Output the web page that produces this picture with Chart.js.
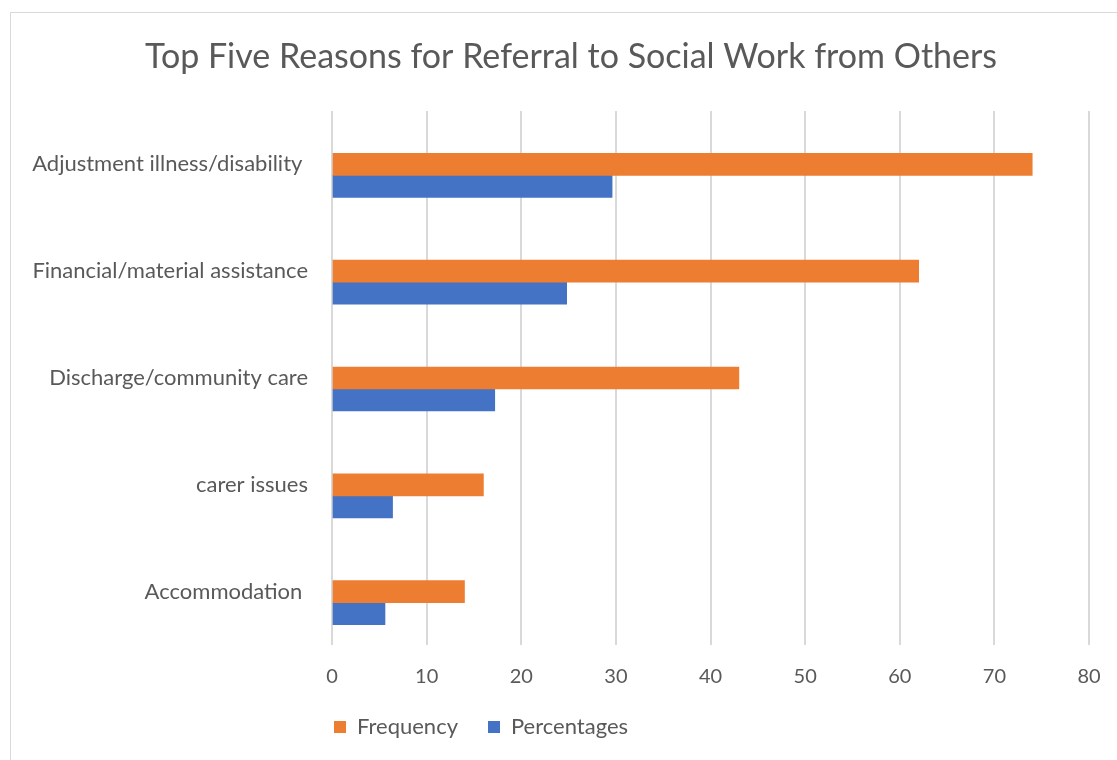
<!DOCTYPE html>
<html>
<head>
<meta charset="utf-8">
<title>Top Five Reasons for Referral to Social Work from Others</title>
<script src="https://cdn.jsdelivr.net/npm/chart.js@4.4.1/dist/chart.umd.min.js"></script>
<style>
  html, body { margin: 0; padding: 0; background: #ffffff; overflow: hidden; }
  .frame {
    position: absolute; left: 10px; top: 12px;
    width: 1140px; height: 780px;
    border: 1px solid #d9d9d9;
  }
  /* the chart object runs a little past the right edge of the window */
  .chart-wrap { position: absolute; left: 0; top: 0; width: 1142px; height: 760px; }
</style>
</head>
<body>
<div class="frame"></div>
<div class="chart-wrap"><canvas id="referralChart"></canvas></div>
<script>
// --- Data ---
const reasons = [
  'Adjustment illness/disability ',
  'Financial/material assistance',
  'Discharge/community care',
  'carer issues',
  'Accommodation '
];
const frequency = [74, 62, 43, 16, 14];
const percentages = [29.6, 24.8, 17.2, 6.4, 5.6];
// empty third series in the sheet, keeps the bar pairs sitting low in each band
const blankSeries = [null, null, null, null, null];

const axisMin = 0;
const axisMax = 80;
const axisStep = 10;

const textGrey = '#595959';
const gridGrey = '#d9d9d9';

Chart.defaults.font.family = 'Lato, "Open Sans", sans-serif';
Chart.defaults.color = textGrey;

// the legend sits under the plot, flush with its left edge
const legendNudge = {
  id: 'legendNudge',
  afterLayout(chart) {
    const legend = chart.legend;
    const shift = legend.options.labels.padding - 2;
    legend.left -= shift;
    legend.right -= shift;
  }
};

const ctx = document.getElementById('referralChart');

new Chart(ctx, {
  type: 'bar',
  data: {
    labels: reasons,
    datasets: [
      {
        label: '',
        data: blankSeries,
        backgroundColor: 'rgba(0,0,0,0)'
      },
      {
        label: 'Frequency',
        data: frequency,
        backgroundColor: '#ed7d31'
      },
      {
        label: 'Percentages',
        data: percentages,
        backgroundColor: '#4472c4'
      }
    ]
  },
  options: {
    indexAxis: 'y',
    responsive: true,
    maintainAspectRatio: false,
    animation: false,
    barThickness: 22,
    layout: {
      padding: { left: 0, right: 0, top: 0, bottom: 12 }
    },
    scales: {
      x: {
        min: axisMin,
        max: axisMax,
        ticks: {
          stepSize: axisStep,
          padding: 20,
          font: { size: 20 },
          color: textGrey
        },
        grid: {
          color: gridGrey,
          lineWidth: 2,
          drawTicks: false
        },
        border: { display: false },
        afterFit(scale) {
          scale.height = 41;
          scale.paddingRight = 53; // room right of the plot, title stays centred on the whole object
        }
      },
      y: {
        ticks: {
          padding: 24,
          font: { size: 22 },
          color: textGrey
        },
        grid: { display: false, drawTicks: false },
        border: { display: false },
        afterFit(scale) { scale.width = 332; }
      }
    },
    plugins: {
      title: {
        display: true,
        text: 'Top Five Reasons for Referral to Social Work from Others',
        color: textGrey,
        font: { size: 34, weight: 'normal' },
        padding: { top: 37, bottom: 33.2 }
      },
      legend: {
        position: 'bottom',
        align: 'start',
        fullSize: false,
        labels: {
          boxWidth: 12,
          boxHeight: 12,
          padding: 30,
          font: { size: 22 },
          color: textGrey,
          filter: item => item.text !== ''
        }
      },
      tooltip: { enabled: false }
    }
  },
  plugins: [legendNudge]
});
</script>
</body>
</html>
